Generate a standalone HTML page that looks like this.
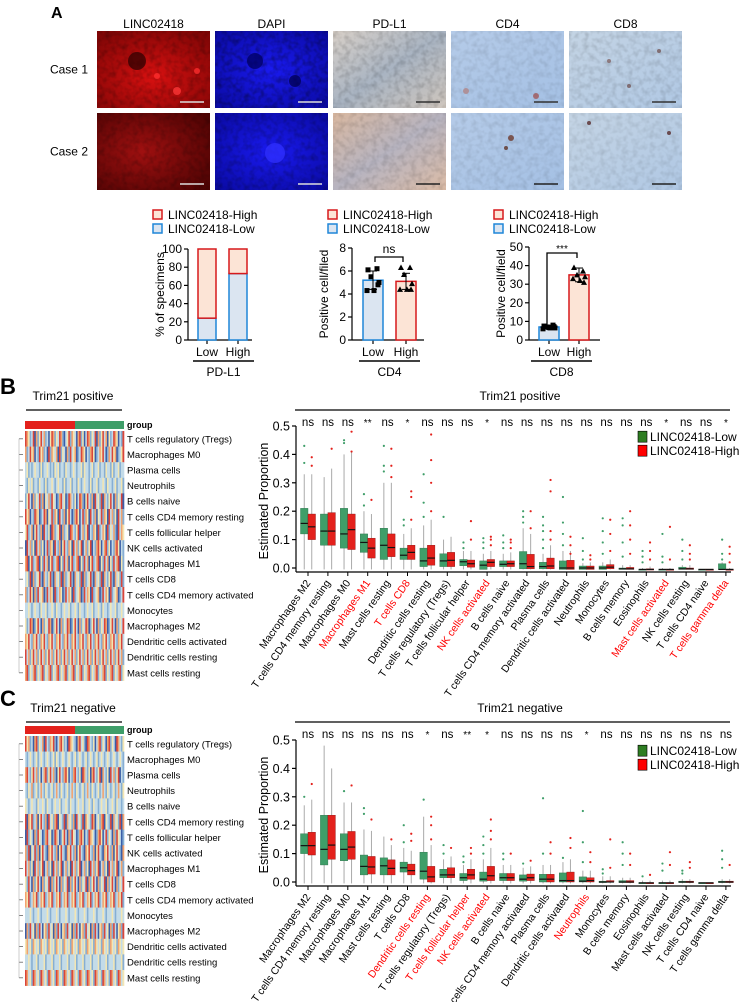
<!DOCTYPE html>
<html><head><meta charset="utf-8"><style>
html,body{margin:0;padding:0;background:#fff;}
svg{display:block;font-family:"Liberation Sans",Arial,sans-serif;}
</style></head><body>
<svg id="fig" width="740" height="1002" viewBox="0 0 740 1002">
<defs>
<radialGradient id="gRed" cx="50%" cy="60%" r="70%"><stop offset="0" stop-color="#d81010"/><stop offset="1" stop-color="#800606"/></radialGradient>
<radialGradient id="gRed2" cx="40%" cy="50%" r="70%"><stop offset="0" stop-color="#a01010"/><stop offset="1" stop-color="#500404"/></radialGradient>
<radialGradient id="gBlue" cx="50%" cy="50%" r="70%"><stop offset="0" stop-color="#1a1af0"/><stop offset="1" stop-color="#0a0aa0"/></radialGradient>
<linearGradient id="gPd1" x1="0" y1="0" x2="1" y2="1"><stop offset="0" stop-color="#d8d0c8"/><stop offset=".5" stop-color="#a9b4c2"/><stop offset="1" stop-color="#cfc6bd"/></linearGradient>
<linearGradient id="gPd2" x1="0" y1="0" x2="1" y2="1"><stop offset="0" stop-color="#d9b8a0"/><stop offset=".5" stop-color="#b7b4c0"/><stop offset="1" stop-color="#dcbca6"/></linearGradient>
<linearGradient id="gCd" x1="0" y1="0" x2="1" y2="1"><stop offset="0" stop-color="#b5cbe8"/><stop offset="1" stop-color="#a4c0e4"/></linearGradient>
<linearGradient id="gCd8" x1="0" y1="0" x2="1" y2="1"><stop offset="0" stop-color="#c4d4e4"/><stop offset="1" stop-color="#b0c8e4"/></linearGradient>
<filter id="grain" x="0" y="0" width="100%" height="100%">
<feTurbulence type="fractalNoise" baseFrequency="0.18" numOctaves="2" seed="3"/>
<feColorMatrix type="matrix" values="0 0 0 0 0  0 0 0 0 0  0 0 0 0 0  0 0 0 1.4 -0.55"/>
</filter>
</defs>
<g id="panelA"></g>
<g id="bars"></g>
<g id="heatB"></g>
<g id="boxB"></g>
<g id="heatC"></g>
<g id="boxC"></g>
</svg>
<script>
// ---------- data ----------
const imgCols = ["LINC02418","DAPI","PD-L1","CD4","CD8"];
const pdl1Cats = ["Low","High"];
const pdl1LowPct = [24, 73];
const cd4Means = [5.2, 5.1];
const cd4LowPts = [6.1, 6.2, 5.5, 5.0, 4.3, 4.3, 4.8];
const cd4HighPts = [6.3, 6.3, 5.7, 4.9, 4.4, 4.4, 4.4];
const cd4Sd = [0.8, 0.7];
const cd8Means = [7, 35];
const cd8LowPts = [7.5, 8.0, 7.0, 6.5, 6.0, 6.5, 7.2];
const cd8HighPts = [39, 37, 35, 34, 33, 32, 31];
const cd8Sd = [1.0, 3.7];

const cellCats = ["Macrophages M2","T cells CD4 memory resting","Macrophages M0","Macrophages M1","Mast cells resting","T cells CD8","Dendritic cells resting","T cells regulatory (Tregs)","T cells follicular helper","NK cells activated","B cells naive","T cells CD4 memory activated","Plasma cells","Dendritic cells activated","Neutrophils","Monocytes","B cells memory","Eosinophils","Mast cells activated","NK cells resting","T cells CD4 naive","T cells gamma delta"];
const sigB = ["ns","ns","ns","**","ns","*","ns","ns","ns","*","ns","ns","ns","ns","ns","ns","ns","ns","*","ns","ns","*"];
const redB = ["Macrophages M1","T cells CD8","NK cells activated","Mast cells activated","T cells gamma delta"];
const boxLowB = [[.12,.157,.21,.33],[.08,.13,.19,.32],[.07,.12,.21,.40],[.055,.09,.12,.20],[.03,.08,.14,.30],[.03,.045,.07,.12],[.005,.025,.07,.15],[.005,.025,.05,.10],[.008,.022,.03,.06],[-.005,.01,.025,.05],[.005,.013,.025,.05],[-.003,.015,.058,.14],[-.003,.005,.02,.05],[-.005,0,.025,.06],[-.005,0,.007,.017],[-.005,0,.007,.02],[-.005,-.003,0,.01],[-.005,-.005,-.004,0],[-.005,-.005,-.004,0],[-.005,-.003,.003,.01],[-.005,-.005,-.004,-.004],[-.005,-.005,.015,.02]];
const boxHighB = [[.10,.145,.19,.33],[.08,.13,.195,.35],[.065,.135,.19,.41],[.035,.07,.105,.19],[.04,.072,.12,.30],[.03,.055,.08,.14],[.01,.035,.08,.17],[.005,.027,.055,.11],[.003,.015,.028,.06],[.005,.02,.03,.06],[.005,.015,.025,.055],[-.003,.005,.048,.12],[-.003,.007,.035,.08],[-.005,0,.027,.06],[-.005,0,.007,.02],[-.003,.003,.012,.03],[-.005,-.003,.002,.01],[-.005,-.005,-.003,.005],[-.005,-.005,-.004,0],[-.005,-.003,0,.01],[-.005,-.005,-.004,-.004],[-.005,-.005,-.004,.0]];
const outLowB = [[.37,.43],[],[.45,.44],[.22,.26],[.34,.36,.43],[.15,.17],[.18,.23,.33],[.18],[.07,.09],[.07,.09,.105],[.07,.09,.115],[.16,.18,.2],[.07,.1,.13,.15,.18],[.08,.12,.16,.25],[.03,.06,.105],[.05,.09,.13,.175],[.04,.09,.15,.175],[.02,.04,.06],[.02,.04,.12],[.03,.06,.1],[],[.03,.05,.1]];
const outHighB = [[.36,.39],[.42],[.41,.48],[.24],[.32,.36,.42],[.17,.25,.27],[.2,.3,.38,.47],[],[.1,.165],[.08,.1,.11],[.07,.09,.1],[.14,.2],[.1,.13,.27,.31],[.05,.08,.11],[.03,.045],[.06,.12,.17],[.05,.1,.15,.2],[.03,.06,.09],[.03,.145],[.03,.05,.08],[],[.02,.05,.075]];

const sigC = ["ns","ns","ns","ns","ns","ns","*","ns","**","*","ns","ns","ns","ns","*","ns","ns","ns","ns","ns","ns","ns"];
const redC = ["Dendritic cells resting","T cells follicular helper","NK cells activated","Neutrophils"];
const boxLowC = [[.10,.128,.17,.27],[.06,.115,.235,.48],[.075,.115,.17,.28],[.025,.055,.095,.185],[.025,.057,.085,.16],[.035,.05,.07,.12],[.01,.038,.105,.23],[.015,.025,.045,.08],[.005,.015,.03,.06],[.003,.01,.035,.08],[.005,.015,.03,.06],[.003,.01,.025,.05],[0,.01,.027,.06],[0,.005,.032,.07],[0,.003,.018,.04],[-.002,0,.003,.02],[-.002,0,.005,.015],[-.003,-.003,-.002,.005],[-.003,-.003,-.002,.005],[-.002,0,.003,.01],[-.003,-.003,-.002,-.002],[-.002,0,.003,.01]];
const boxHighC = [[.095,.128,.175,.29],[.08,.13,.235,.40],[.08,.123,.178,.28],[.028,.053,.09,.18],[.025,.048,.078,.13],[.025,.04,.063,.11],[0,.018,.055,.13],[.015,.025,.05,.09],[.01,.025,.045,.08],[.005,.022,.055,.12],[.005,.015,.03,.06],[.005,.015,.028,.055],[0,.01,.027,.06],[0,.005,.035,.08],[0,.005,.015,.04],[0,0,.005,.02],[-.002,0,.005,.015],[-.003,-.003,-.002,.005],[-.003,-.003,-.002,.005],[-.002,0,.003,.01],[-.003,-.003,-.002,-.002],[-.002,0,.003,.01]];
const outLowC = [[.3],[],[.32],[.24,.26],[],[.14,.2],[.29],[.1,.13],[.07,.09],[.1,.13,.16],[.08,.1],[.065],[.1,.295],[.085],[.07,.14,.25],[.03,.045],[.06,.1,.14],[.02],[.04,.065],[.03,.04],[],[.05,.08,.11]];
const outHighC = [[.345],[],[.34],[.22],[.15],[.145,.17],[.15,.2,.23],[.12],[.1,.12],[.15,.18,.22],[.1],[.075],[.1,.14],[.12,.155],[.07,.105],[.05,.15],[.06,.1],[.025],[.06,.105],[.05,.07],[],[.06]];

const heatRows = ["T cells regulatory (Tregs)","Macrophages M0","Plasma cells","Neutrophils","B cells naive","T cells CD4 memory resting","T cells follicular helper","NK cells activated","Macrophages M1","T cells CD8","T cells CD4 memory activated","Monocytes","Macrophages M2","Dendritic cells activated","Dendritic cells resting","Mast cells resting"];
const heatB = [
"5431250413524120354132541023514320451302541325041352403125430215",
"4125340215341205143240513204152340125430214530124352014253401235",
"2312123221312232121323122132212321223132212312231221322131223122",
"2132312213221312232123221312231221321232213122312232132212312231",
"1352041325140324153201452301542130254103521405231504213520413250",
"5340215430125403251430521403520145302514305214032514305241305241",
"3512403521405213054123504123054213502413502143051243051324105243",
"0524130524130251430521403521430524135024135021453024513021453021",
"4503512450315240351245031524035124503152403512450315240315245031",
"2315041235104213510423150412351042315041235104231504213510423151",
"4125304152340152430512430152430512340152430512340152430512340125",
"2232123221322312232132212322312232132212322312232132212322312232",
"3125401352041325401352041325401352041325401352041325401352041325",
"4352143521435214352143521435214352143521435214352143521435214352",
"5241352413524135241352413524135241352413524135241352413524135241",
"4513245132451324513245132451324513245132451324513245132451324513"];
const heatC = [
"5341204513240521435102453120543210452310542130245132045132054213",
"2123212312321232123132123212321231232123123212312321232123212321",
"4521352413024513524103521453021452130542130452135042130524135021",
"2132412312421321231242132123124213212312421321231242132123124213",
"3212322132232132212322312232132212322312232132212322312232132212",
"5043512403521405231450321504231405231504321540231450321504231504",
"0513204153201452301542013520415320145302154320145302513204153201",
"4150325140352104352140352104352140352104352140352104352140352104",
"5241305241350241305241350241305241350241305241350241305241350241",
"3152041352041325041352041325041352041325041352041325041352041325",
"4351243512435124351243512435124351243512435124351243512435124351",
"2223212232122232122232122232122232122232122232122232122232122232",
"0415230415203415230415203415230415203415230415203415230415203415",
"3423143231432314323143231432314323143231432314323143231432314323",
"2232122312223122231222312223122231222312223122231222312223122231",
"5423154231542315423154231542315423154231542315423154231542315423"];
const heatPalette = ["#3b5ea8","#86aed3","#c3dbe8","#f3e6b3","#f2a36e","#d9453a"];

// ---------- helpers ----------
const NS="http://www.w3.org/2000/svg";
function mk(parent, tag, attrs, text){
  const e=document.createElementNS(NS,tag);
  for(const k in attrs) e.setAttribute(k,attrs[k]);
  if(text!==undefined) e.textContent=text;
  parent.appendChild(e); return e;
}

// ---------- Panel A ----------
const A=document.getElementById('panelA');
let t=mk(A,'text',{x:51,y:18,'font-size':16,'font-weight':'bold'},'A');


const colX=[97,215,333,451,569], colW=113, rowY=[31,113], rowH=[77,77];
const fills=[["url(#gRed)","url(#gRed2)"],["url(#gBlue)","url(#gBlue)"],["url(#gPd1)","url(#gPd2)"],["url(#gCd)","url(#gCd)"],["url(#gCd8)","url(#gCd8)"]];
const grainOp=[[.35,.3],[.5,.35],[.25,.2],[.15,.15],[.2,.15]];
const barCol=[["#ddd","#ddd"],["#ddd","#ddd"],["#333","#222"],["#333","#222"],["#333","#222"]];
imgCols.forEach((c,i)=>{
  const l=mk(A,'text',{x:colX[i]+colW/2,y:28,'font-size':12,'text-anchor':'middle'},c);
  
  
  for(let r=0;r<2;r++){
    const im=mk(A,'rect',{x:colX[i],y:rowY[r],width:colW,height:rowH[r],fill:fills[i][r]});
    
    
    mk(A,'rect',{x:colX[i],y:rowY[r],width:colW,height:rowH[r],filter:'url(#grain)',opacity:grainOp[i][r]});
    mk(A,'line',{x1:colX[i]+colW-30,x2:colW+colX[i]-6,y1:rowY[r]+rowH[r]-6,y2:rowY[r]+rowH[r]-6,stroke:barCol[i][r],'stroke-width':1.5});
  }
});
const spots=[[0,0,40,30,"#300202",9],[0,0,80,60,"#ff3a3a",4],[0,0,60,45,"#ff3030",3],[0,0,100,40,"#ff3030",3],[1,0,40,30,"#000060",8],[1,0,80,50,"#000050",6],[1,1,60,40,"#3030ff",10],[3,0,15,60,"#b08080",3],[3,0,85,65,"#a05050",3],[3,1,60,25,"#6a3020",3],[3,1,55,35,"#5a2a1a",2],[4,0,40,30,"#806060",2],[4,0,90,20,"#705050",2],[4,0,60,55,"#705050",2],[4,1,20,10,"#502020",2],[4,1,100,20,"#502020",2]];
spots.forEach(s=>{mk(A,'circle',{cx:colX[s[0]]+s[2],cy:rowY[s[1]]+s[3],r:s[5],fill:s[4],opacity:.75});});
["Case 1","Case 2"].forEach((c,r)=>{
  const l=mk(A,'text',{x:88,y:rowY[r]+rowH[r]/2+4,'font-size':12,'text-anchor':'end'},c);
  
  
});

// ---------- Bar charts ----------
const Bg=document.getElementById('bars');
const RED="#d7191c", REDF="#fce4d6", BLUE="#1f86d8", BLUEF="#dbe5f1";
function legend(x,name){
  const g=mk(Bg,'g',{});
  
  
  mk(g,'rect',{x:x,y:210,width:9,height:9,fill:REDF,stroke:RED,'stroke-width':1.5});
  mk(g,'text',{x:x+15,y:219,'font-size':12},'LINC02418-High');
  mk(g,'rect',{x:x,y:224,width:9,height:9,fill:BLUEF,stroke:BLUE,'stroke-width':1.5});
  mk(g,'text',{x:x+15,y:233,'font-size':12},'LINC02418-Low');
}
function axes(ax,x1,y0,yTop,ticks,maxV,ylab,group,lineX1,lineX2,catX){
  const ys=v=>y0-(v/maxV)*(y0-yTop);
  mk(Bg,'line',{x1:ax,x2:ax,y1:yTop,y2:y0,stroke:'#000','stroke-width':1.2});
  mk(Bg,'line',{x1:ax,x2:x1,y1:y0,y2:y0,stroke:'#000','stroke-width':1.2});
  ticks.forEach(v=>{
    mk(Bg,'line',{x1:ax-4,x2:ax,y1:ys(v),y2:ys(v),stroke:'#000','stroke-width':1.2});
    mk(Bg,'text',{x:ax-6,y:ys(v)+4,'font-size':12,'text-anchor':'end'},v);
  });
  catX.forEach((cx,i)=>{
    mk(Bg,'line',{x1:cx,x2:cx,y1:y0,y2:y0+4,stroke:'#000','stroke-width':1.2});
    mk(Bg,'text',{x:cx,y:356,'font-size':12,'text-anchor':'middle'},pdl1Cats[i]);
  });
  const yl=mk(Bg,'text',{x:0,y:0,'font-size':12,'text-anchor':'middle',transform:`translate(${ax-24},${(y0+yTop)/2}) rotate(-90)`},ylab);
  
  
  mk(Bg,'line',{x1:lineX1,x2:lineX2,y1:361,y2:361,stroke:'#000','stroke-width':1.5});
  mk(Bg,'text',{x:(lineX1+lineX2)/2,y:376,'font-size':12,'text-anchor':'middle'},group);
  return ys;
}
legend(153,'pdl1'); legend(328,'cd4'); legend(494,'cd8');
{
  const catX=[207,238];
  const ys=axes(188,252,340,249,[0,20,40,60,80,100],100,'% of specimens','PD-L1',193,254,catX);
  catX.forEach((cx,i)=>{
    const lo=mk(Bg,'rect',{x:cx-9,y:ys(pdl1LowPct[i]),width:18,height:340-ys(pdl1LowPct[i]),fill:BLUEF,stroke:BLUE,'stroke-width':1.5});
    
    
    const hi=mk(Bg,'rect',{x:cx-9,y:ys(100),width:18,height:ys(pdl1LowPct[i])-ys(100),fill:REDF,stroke:RED,'stroke-width':1.5});
    
    
  });
}
function dotChart(ax,x1,yTop,maxV,ticks,ylab,group,l1,l2,catX,means,sds,lowPts,highPts,name){
  const ys=axes(ax,x1,340,yTop,ticks,maxV,ylab,group,l1,l2,catX);
  [[BLUEF,BLUE],[REDF,RED]].forEach((c,i)=>{
    const b=mk(Bg,'rect',{x:catX[i]-10,y:ys(means[i]),width:20,height:340-ys(means[i]),fill:c[0],stroke:c[1],'stroke-width':1.5});
    
    
    mk(Bg,'line',{x1:catX[i],x2:catX[i],y1:ys(means[i]-sds[i]),y2:ys(means[i]+sds[i]),stroke:'#000','stroke-width':1});
    [-1,1].forEach(s=>mk(Bg,'line',{x1:catX[i]-4,x2:catX[i]+4,y1:ys(means[i]+s*sds[i]),y2:ys(means[i]+s*sds[i]),stroke:'#000','stroke-width':1}));
  });
  const off=[-5,4,-2,6,-6,1,5];
  lowPts.forEach((v,j)=>{
    const p=mk(Bg,'rect',{x:catX[0]+off[j]-2.5,y:ys(v)-2.5,width:5,height:5,fill:'#000'});
    
    
  });
  highPts.forEach((v,j)=>{
    const x=catX[1]+off[j], y=ys(v);
    const p=mk(Bg,'polygon',{points:`${x-3},${y+2.5} ${x+3},${y+2.5} ${x},${y-3}`,fill:'#000'});
    
    
  });
  return ys;
}
dotChart(352,424,248,8,[0,2,4,6,8],'Positive cell/filed','CD4',359,420,[373,406],cd4Means,cd4Sd,cd4LowPts,cd4HighPts,'cd4');
mk(Bg,'path',{d:'M375,262 V257 H403 V262',fill:'none',stroke:'#000','stroke-width':1.3});
mk(Bg,'text',{x:389,y:253,'font-size':12,'text-anchor':'middle'},'ns');
dotChart(529,600,247,50,[0,10,20,30,40,50],'Positive cell/field','CD8',531,592,[549,579],cd8Means,cd8Sd,cd8LowPts,cd8HighPts,'cd8');
mk(Bg,'path',{d:'M547,330 V253 H577 V258',fill:'none',stroke:'#000','stroke-width':1.3});
mk(Bg,'text',{x:562,y:252,'font-size':10,'text-anchor':'middle'},'***');

// ---------- Heatmaps ----------
function heatmap(gid,label,title,rows,y0,titleY){
  const g=document.getElementById(gid);
  const L=mk(g,'text',{x:0,y:titleY-6,'font-size':22,'font-weight':'bold'},label);
  
  
  const T=mk(g,'text',{x:73,y:titleY,'font-size':12,'text-anchor':'middle'},title);
  
  
  mk(g,'line',{x1:26,x2:122,y1:titleY+10,y2:titleY+10,stroke:'#000','stroke-width':1.3});
  const x0=25,x1=124,gy=y0-10;
  const r1=mk(g,'rect',{x:x0,y:gy,width:50,height:8,fill:'#e3211c'});
  
  
  const r2=mk(g,'rect',{x:75,y:gy,width:x1-75,height:8,fill:'#3f9e69'});
  
  
  mk(g,'text',{x:127,y:gy+7,'font-size':9,'font-weight':'bold'},'group');
  const rh=15.6;
  rows.forEach((s,r)=>{
    const w=(x1-x0)/s.length;
    for(let c=0;c<s.length;c++){
      const cell=mk(g,'rect',{x:(x0+c*w).toFixed(2),y:(y0+r*rh).toFixed(2),width:(w+0.3).toFixed(2),height:rh+0.3,fill:heatPalette[+s[c]]});
      
      
    }
    mk(g,'line',{x1:19,x2:23,y1:y0+r*rh+rh/2,y2:y0+r*rh+rh/2,stroke:'#666','stroke-width':.8});
    const rl=mk(g,'text',{x:127,y:y0+r*rh+rh/2+3.5,'font-size':9.5},heatRows[r]);
    
    
  });
  mk(g,'line',{x1:19,x2:19,y1:y0+rh/2,y2:y0+rows.length*rh-rh/2,stroke:'#aaa','stroke-width':.6});
}
heatmap('heatB','B','Trim21 positive',heatB,431,400);
heatmap('heatC','C','Trim21 negative',heatC,736,712);

// ---------- Boxplots ----------
function boxplot(gid,title,titleY,y0,lowB,highB,outL,outH,sig,reds,name){
  const g=document.getElementById(gid);
  const ys=v=>y0-v*284;
  const xc=i=>308+i*19.9;
  const axB=y0+4, ax=296;
  const T=mk(g,'text',{x:520,y:titleY,'font-size':12,'text-anchor':'middle'},title);
  
  
  mk(g,'line',{x1:295,x2:730,y1:titleY+10,y2:titleY+10,stroke:'#000','stroke-width':1.3});
  mk(g,'line',{x1:ax,x2:ax,y1:ys(.5),y2:axB,stroke:'#000','stroke-width':1.2});
  mk(g,'line',{x1:ax,x2:731,y1:axB,y2:axB,stroke:'#000','stroke-width':1.2});
  [0,.1,.2,.3,.4,.5].forEach(v=>{
    mk(g,'line',{x1:ax-4,x2:ax,y1:ys(v),y2:ys(v),stroke:'#000','stroke-width':1.2});
    mk(g,'text',{x:ax-6,y:ys(v)+4.5,'font-size':12.5,'text-anchor':'end'},v.toFixed(1));
  });
  const yl=mk(g,'text',{x:0,y:0,'font-size':12.5,'text-anchor':'middle',transform:`translate(268,${ys(.25)+4}) rotate(-90)`},'Estimated Proportion');
  
  
  cellCats.forEach((c,i)=>{
    const x=xc(i);
    mk(g,'line',{x1:x,x2:x,y1:axB,y2:axB+4,stroke:'#000','stroke-width':1});
    const lab=mk(g,'text',{x:0,y:0,'font-size':10.5,'text-anchor':'end',fill:reds.includes(c)?'#f00':'#000',transform:`translate(${x+3},${axB+11}) rotate(-55)`},c);
    
    
    const s=mk(g,'text',{x:x,y:titleY+26,'font-size':sig[i]==='ns'?11.5:10,'text-anchor':'middle'},sig[i]);
    
    
    [[lowB[i],outL[i],'#3f9e69','#2a7048',-7.5,'low'],[highB[i],outH[i],'#e3211c','#8a1010',0,'high']].forEach(d=>{
      const [b,outs,fill,stroke,dx,nm]=d;
      const bx=x+dx;
      mk(g,'line',{x1:bx+3.75,x2:bx+3.75,y1:ys(b[3]),y2:ys(Math.min(b[0],-0.005)),stroke:'#aaa','stroke-width':1});
      const r=mk(g,'rect',{x:bx,y:ys(b[2]),width:7.5,height:Math.max(1.2,ys(b[0])-ys(b[2])),fill:fill,stroke:stroke,'stroke-width':.4});
      
      
      mk(g,'line',{x1:bx,x2:bx+7.5,y1:ys(b[1]),y2:ys(b[1]),stroke:'#111','stroke-width':1.2});
      outs.forEach(v=>{
        const o=mk(g,'circle',{cx:bx+3.75,cy:ys(v),r:1.1,fill:fill});
        
        
      });
    });
  });
  const lg=mk(g,'g',{});
  
  
  const ly=ys(.45);
  mk(lg,'rect',{x:638,y:ly-9,width:9,height:11,fill:'#2e7d22',stroke:'#000','stroke-width':.6});
  mk(lg,'text',{x:650,y:ly+1,'font-size':12},'LINC02418-Low');
  mk(lg,'rect',{x:638,y:ly+5,width:9,height:11,fill:'#f00',stroke:'#000','stroke-width':.6});
  mk(lg,'text',{x:650,y:ly+15,'font-size':12},'LINC02418-High');
}
boxplot('boxB','Trim21 positive',400,568,boxLowB,boxHighB,outLowB,outHighB,sigB,redB,'b');
boxplot('boxC','Trim21 negative',712,882,boxLowC,boxHighC,outLowC,outHighC,sigC,redC,'c');
</script>
</body></html>
